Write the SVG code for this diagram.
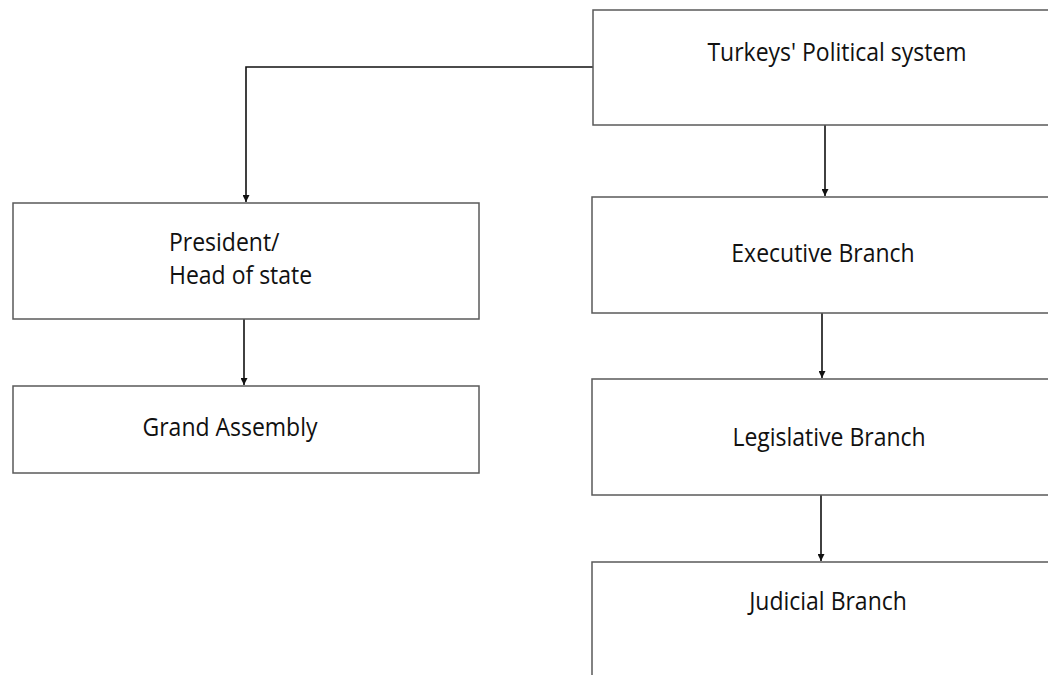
<svg xmlns="http://www.w3.org/2000/svg" width="1048" height="675" viewBox="0 0 1048 675">
<style>
.box{fill:#ffffff;stroke:#5a5a5a;stroke-width:1.5}
.lbl{font-family:"Open Sans","Liberation Sans",sans-serif;font-size:23px;fill:#111}
.c{text-anchor:middle}
.conn{fill:none;stroke:#111;stroke-width:1.6}
</style>
<defs>
<marker id="ah" viewBox="0 0 10 10" refX="10" refY="5" markerWidth="7" markerHeight="7" orient="auto" markerUnits="userSpaceOnUse"><path d="M0,0 L10,5 L0,10 Z" fill="#111"/></marker>
</defs>
<rect width="1048" height="675" fill="#ffffff"/>
<g id="connectors">
<path class="conn" d="M593,67 H246 V202" marker-end="url(#ah)"/>
<path class="conn" d="M825,125 V196" marker-end="url(#ah)"/>
<path class="conn" d="M244,319 V385" marker-end="url(#ah)"/>
<path class="conn" d="M822,313 V378" marker-end="url(#ah)"/>
<path class="conn" d="M821,495 V561" marker-end="url(#ah)"/>
</g>
<g id="n-top">
<rect class="box" x="593" y="10" width="470" height="115"/>
<text class="lbl c" transform="translate(837,61) scale(1,1.1)">Turkeys' Political system</text>
</g>
<g id="n-president">
<rect class="box" x="13" y="203" width="466" height="116"/>
<text class="lbl" transform="translate(169,251) scale(1,1.1)">President/</text>
<text class="lbl" transform="translate(169,284) scale(1,1.1)">Head of state</text>
</g>
<g id="n-grand">
<rect class="box" x="13" y="386" width="466" height="87"/>
<text class="lbl c" transform="translate(230,436) scale(1,1.1)">Grand Assembly</text>
</g>
<g id="n-exec">
<rect class="box" x="592" y="197" width="470" height="116"/>
<text class="lbl c" transform="translate(823,262) scale(1,1.1)">Executive Branch</text>
</g>
<g id="n-leg">
<rect class="box" x="592" y="379" width="470" height="116"/>
<text class="lbl c" transform="translate(829,446) scale(1,1.1)">Legislative Branch</text>
</g>
<g id="n-jud">
<rect class="box" x="592" y="562" width="470" height="130"/>
<text class="lbl c" transform="translate(828,610) scale(1,1.1)">Judicial Branch</text>
</g>
</svg>
